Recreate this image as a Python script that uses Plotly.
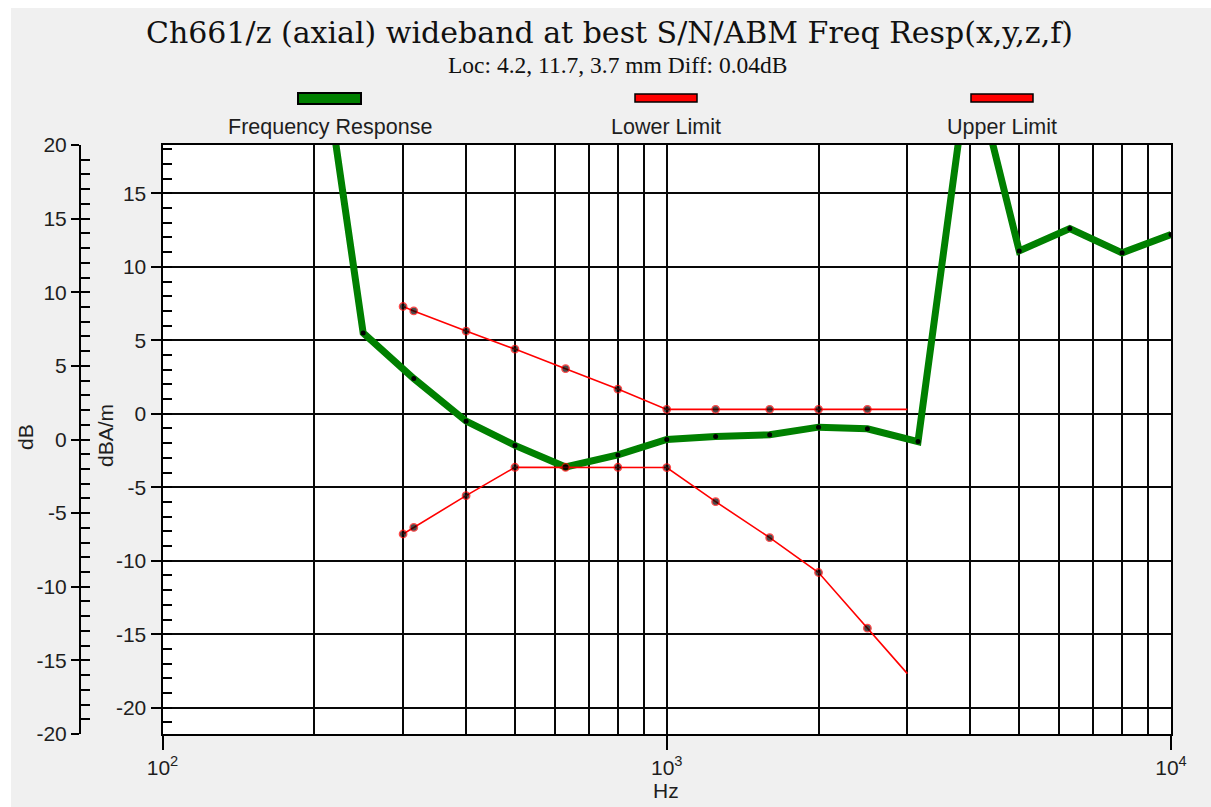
import plotly.graph_objects as go

# ---------------- data ----------------
resp_freq = [200, 250, 315, 400, 500, 630, 800, 1000, 1250, 1600, 2000, 2500, 3150, 4000, 5000, 6300, 8000, 10000]
resp_val = [28.5, 5.5, 2.4, -0.5, -2.15, -3.62, -2.8, -1.75, -1.55, -1.43, -0.91, -1.02, -1.89, 24.5, 11.08, 12.6, 10.95, 12.2]

limit_freq = [300, 315, 400, 500, 630, 800, 1000, 1250, 1600, 2000, 2500, 3000]
upper_val = [7.3, 7.0, 5.63, 4.4, 3.07, 1.68, 0.3, 0.3, 0.3, 0.3, 0.3, 0.3]
lower_val = [-8.18, -7.73, -5.57, -3.64, -3.64, -3.64, -3.66, -5.98, -8.43, -10.8, -14.59, -17.68]
limit_marker = [True] * 11 + [False]

title_text = "Ch661/z (axial) wideband at best S/N/ABM Freq Resp(x,y,z,f)"
subtitle_text = "Loc: 4.2, 11.7, 3.7 mm Diff: 0.04dB"
legend_names = ["Frequency Response", "Lower Limit", "Upper Limit"]
x_tickvals = [100, 1000, 10000]
x_ticktext = ["10<sup>2</sup>", "10<sup>3</sup>", "10<sup>4</sup>"]
x_minor = [200, 300, 400, 500, 600, 700, 800, 900, 2000, 3000, 4000, 5000, 6000, 7000, 8000, 9000]
inner_tickvals = [-20, -15, -10, -5, 0, 5, 10, 15]
outer_tickvals = [-20, -15, -10, -5, 0, 5, 10, 15, 20]

# ---------------- geometry helpers ----------------
W, H = 1211, 807
ML, MR, MT, MB = 60, 40, 145, 73
PW = W - ML - MR
PH = H - MT - MB


def px(x):
    return (x - ML) / PW


def py(y):
    return (H - MB - y) / PH


def lab(v):
    return str(v).replace("\u2212", "-")


SANS = "Liberation Sans, Arial, sans-serif"
TXT = "#1e1e1e"
GRID = "#080808"

fig = go.Figure()

fig.add_trace(go.Scatter(
    x=resp_freq, y=resp_val, name=legend_names[0], mode="lines+markers",
    line=dict(color="#008000", width=7),
    marker=dict(color="black", size=5),
    showlegend=False,
))
for vals, nm in ((lower_val, legend_names[1]), (upper_val, legend_names[2])):
    fig.add_trace(go.Scatter(
        x=limit_freq, y=vals, name=nm, mode="lines+markers",
        line=dict(color="#ff0000", width=1.6),
        marker=dict(color="black", size=[7.5 if m else 0 for m in limit_marker],
                    line=dict(color="#ff0000", width=1.3)),
        showlegend=False,
    ))

# invisible carriers so the secondary (dB) axes get drawn
for ax in ("y2", "y3"):
    fig.add_trace(go.Scatter(
        x=limit_freq, y=lower_val, yaxis=ax, mode="markers",
        marker=dict(opacity=0), hoverinfo="skip", showlegend=False,
    ))

x0dom = px(162.5)
outer_pos = px(80)

fig.update_layout(
    width=W, height=H,
    margin=dict(l=ML, r=MR, t=MT, b=MB, pad=0),
    paper_bgcolor="#f0f0f0",
    plot_bgcolor="white",
    font=dict(family=SANS, size=21, color=TXT),
    xaxis=dict(
        type="log", range=[2, 4], domain=[x0dom, 1],
        tickvals=x_tickvals, ticktext=x_ticktext,
        ticks="outside", ticklen=14, tickwidth=2, tickcolor="black",
        showgrid=True, gridcolor=GRID, gridwidth=2,
        minor=dict(tickvals=x_minor, showgrid=True, gridcolor=GRID, gridwidth=2, ticks=""),
        showline=True, linecolor="black", linewidth=2, mirror=True,
        zeroline=False, tickfont=dict(size=21, color=TXT),
    ),
    yaxis=dict(
        range=[-21.79, 18.29], domain=[0, 1],
        tickmode="array", tickvals=inner_tickvals, ticktext=[lab(v) for v in inner_tickvals],
        ticks="outside", ticklen=10, tickwidth=2, tickcolor="black",
        showgrid=True, gridcolor=GRID, gridwidth=2,
        minor=dict(dtick=1, tick0=0, ticks="inside", ticklen=9, tickwidth=2,
                   tickcolor="black", showgrid=False),
        showline=True, linecolor="black", linewidth=2, mirror=True,
        zeroline=False, tickfont=dict(size=21, color=TXT),
    ),
    yaxis2=dict(
        overlaying="y", anchor="free", position=outer_pos, side="left",
        range=[-20, 20], tickmode="array", tickvals=outer_tickvals,
        ticktext=[lab(v) for v in outer_tickvals],
        ticks="outside", ticklen=8, tickwidth=2, tickcolor="black",
        showgrid=False, zeroline=False,
        showline=True, linecolor="black", linewidth=2,
        tickfont=dict(size=21, color=TXT),
    ),
    yaxis3=dict(
        overlaying="y", anchor="free", position=outer_pos, side="right",
        range=[-20, 20], tickmode="array", tickvals=list(range(-19, 20)),
        ticks="outside", ticklen=9, tickwidth=2, tickcolor="black",
        showticklabels=False, showgrid=False, zeroline=False, showline=False,
    ),
)

shapes = []
# white page strips
shapes.append(dict(type="rect", xref="paper", yref="paper", x0=px(0), x1=px(11), y0=py(H), y1=py(0),
                   fillcolor="white", line=dict(width=0), layer="below"))
shapes.append(dict(type="rect", xref="paper", yref="paper", x0=px(0), x1=px(W), y0=py(8), y1=py(0),
                   fillcolor="white", line=dict(width=0), layer="below"))
# legend swatches
shapes.append(dict(type="rect", xref="paper", yref="paper", x0=px(298), x1=px(361), y0=py(104), y1=py(93),
                   fillcolor="#008000", line=dict(color="black", width=2)))
for cx in (666, 1002):
    shapes.append(dict(type="rect", xref="paper", yref="paper", x0=px(cx - 31), x1=px(cx + 31), y0=py(102), y1=py(94),
                       fillcolor="#ff0000", line=dict(color="black", width=1.5)))

annotations = [
    dict(text=title_text, x=px(609), y=py(32), xref="paper", yref="paper", showarrow=False,
         xanchor="center", yanchor="middle", font=dict(family="DejaVu Serif", size=30, color="#111")),
    dict(text=subtitle_text, x=px(617), y=py(65), xref="paper", yref="paper", showarrow=False,
         xanchor="center", yanchor="middle", font=dict(family="Liberation Serif, Times New Roman, serif", size=23.5, color="#111")),
    dict(text=legend_names[0], x=px(330), y=py(127), xref="paper", yref="paper", showarrow=False,
         xanchor="center", yanchor="middle", font=dict(size=21.5, color=TXT)),
    dict(text=legend_names[1], x=px(666), y=py(127), xref="paper", yref="paper", showarrow=False,
         xanchor="center", yanchor="middle", font=dict(size=21.5, color=TXT)),
    dict(text=legend_names[2], x=px(1002), y=py(127), xref="paper", yref="paper", showarrow=False,
         xanchor="center", yanchor="middle", font=dict(size=21.5, color=TXT)),
    dict(text="dB", x=px(25), y=py(437), xref="paper", yref="paper", showarrow=False, textangle=-90,
         xanchor="center", yanchor="middle", font=dict(size=21, color=TXT)),
    dict(text="dBA/m", x=px(105), y=py(436), xref="paper", yref="paper", showarrow=False, textangle=-90,
         xanchor="center", yanchor="middle", font=dict(size=21, color=TXT)),
    dict(text="Hz", x=px(666), y=py(790), xref="paper", yref="paper", showarrow=False,
         xanchor="center", yanchor="middle", font=dict(size=21, color=TXT)),
]

fig.update_layout(shapes=shapes, annotations=annotations)
fig.write_html("out.html")
